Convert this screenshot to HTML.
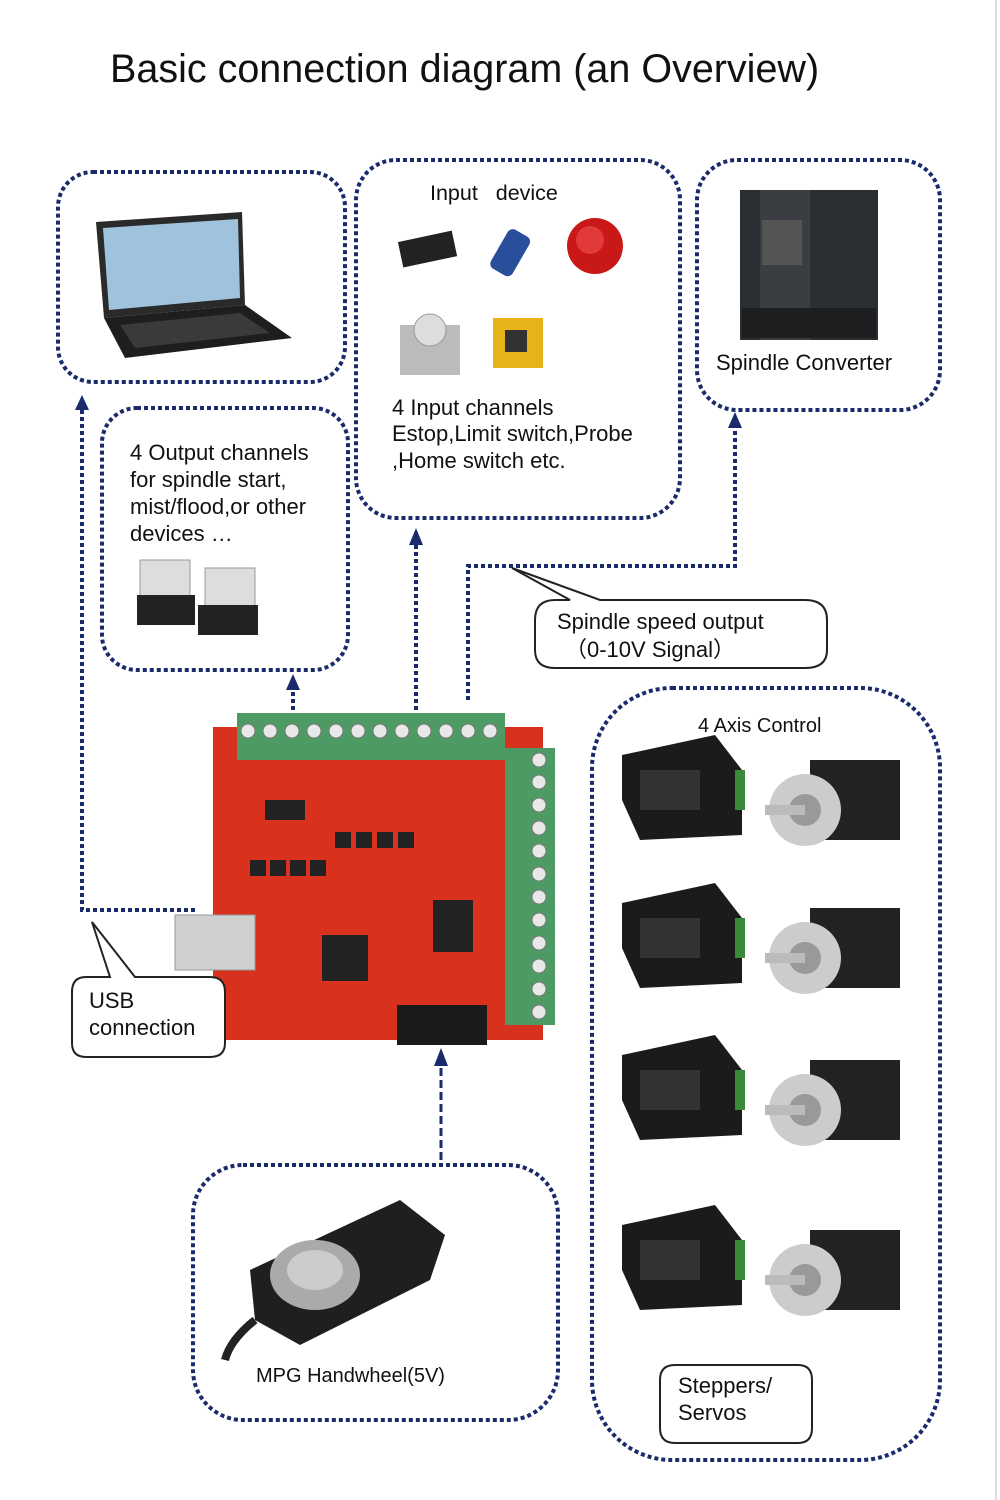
<!DOCTYPE html>
<html><head><meta charset="utf-8"><style>
html,body{margin:0;padding:0;background:#fff}
svg{display:block}
text{font-family:"Liberation Sans",sans-serif;fill:#111}
</style></head><body>
<svg width="1000" height="1500" viewBox="0 0 1000 1500" xmlns="http://www.w3.org/2000/svg">
<rect width="1000" height="1500" fill="#fff"/>
<line x1="996" y1="0" x2="996" y2="1500" stroke="#ddd" stroke-width="2"/>
<text x="110" y="82" font-size="39.5">Basic connection diagram (an Overview)</text>

<g fill="none" stroke="#1a2a6c" stroke-width="4" stroke-dasharray="4 3">
<rect x="58" y="172" width="287" height="210" rx="35"/>
<rect x="356" y="160" width="324" height="358" rx="40"/>
<rect x="697" y="160" width="243" height="250" rx="40"/>
<rect x="102" y="408" width="246" height="262" rx="35"/>
<rect x="592" y="688" width="348" height="772" rx="80"/>
<rect x="193" y="1165" width="365" height="255" rx="50"/>
<path d="M82 410 V910 H195"/>
<path d="M293 692 V715"/>
<path d="M416 545 V712"/>
<path d="M468 700 V566 H735 V428"/>
</g>
<g fill="none" stroke="#1a2a6c" stroke-width="3" stroke-dasharray="8 4">
<path d="M441 1068 V1165"/>
</g>
<g fill="#1a2a6c">
<polygon points="82,395 75,410 89,410"/>
<polygon points="293,674 286,690 300,690"/>
<polygon points="416,528 409,545 423,545"/>
<polygon points="735,412 728,428 742,428"/>
<polygon points="441,1048 434,1066 448,1066"/>
</g>

<!-- laptop -->
<polygon points="96,222 242,212 245,305 104,318" fill="#2a2a2a"/>
<polygon points="103,228 238,219 240,298 109,310" fill="#9fc3dc"/>
<polygon points="104,318 245,305 292,338 125,358" fill="#1e1e1e"/>
<polygon points="120,325 240,313 270,333 135,348" fill="#3a3a3a"/>

<!-- input devices -->
<text x="430" y="200" font-size="21.5">Input&#160;&#160;&#160;device</text>
<rect x="400" y="236" width="55" height="26" fill="#222" transform="rotate(-12 428 249)"/>
<rect x="498" y="230" width="25" height="45" rx="6" fill="#2a4f9a" transform="rotate(30 510 252)"/>
<circle cx="595" cy="246" r="28" fill="#c81818"/>
<circle cx="590" cy="240" r="14" fill="#e23a3a"/>
<rect x="400" y="325" width="60" height="50" fill="#bbb"/>
<circle cx="430" cy="330" r="16" fill="#ddd" stroke="#999"/>
<rect x="493" y="318" width="50" height="50" fill="#e8b21a"/>
<rect x="505" y="330" width="22" height="22" fill="#333"/>
<text x="392" y="415" font-size="22">4 Input channels</text>
<text x="392" y="441" font-size="22">Estop,Limit switch,Probe</text>
<text x="392" y="468" font-size="22">,Home switch etc.</text>

<!-- spindle converter -->
<rect x="740" y="190" width="138" height="150" fill="#2b2f33"/>
<rect x="760" y="190" width="50" height="150" fill="#3a3e43"/>
<rect x="762" y="220" width="40" height="45" fill="#555"/>
<rect x="742" y="308" width="134" height="30" fill="#1c1e20"/>
<text x="716" y="370" font-size="22">Spindle Converter</text>

<!-- outputs -->
<text x="130" y="460" font-size="22">4 Output channels</text>
<text x="130" y="487" font-size="22">for spindle start,</text>
<text x="130" y="514" font-size="22">mist/flood,or other</text>
<text x="130" y="541" font-size="22">devices …</text>
<rect x="140" y="560" width="50" height="40" fill="#ddd" stroke="#999"/>
<rect x="137" y="595" width="58" height="30" fill="#222"/>
<rect x="205" y="568" width="50" height="40" fill="#ddd" stroke="#999"/>
<rect x="198" y="605" width="60" height="30" fill="#222"/>

<!-- spindle callout -->
<path d="M570 600 L512 568 L600 600 H805 Q827 600 827 620 V650 Q827 668 805 668 H555 Q535 668 535 650 V620 Q535 600 555 600 Z" fill="#fff" stroke="#222" stroke-width="2"/>
<text x="557" y="629" font-size="22">Spindle speed output</text>
<text x="565" y="657" font-size="22">（0-10V Signal）</text>

<!-- board -->
<rect x="213" y="727" width="330" height="313" fill="#d8321e"/>
<rect x="237" y="713" width="268" height="47" fill="#4e9a64"/>
<g fill="#e8e8e8" stroke="#777">
<circle cx="248" cy="731" r="7"/><circle cx="270" cy="731" r="7"/><circle cx="292" cy="731" r="7"/><circle cx="314" cy="731" r="7"/><circle cx="336" cy="731" r="7"/><circle cx="358" cy="731" r="7"/><circle cx="380" cy="731" r="7"/><circle cx="402" cy="731" r="7"/><circle cx="424" cy="731" r="7"/><circle cx="446" cy="731" r="7"/><circle cx="468" cy="731" r="7"/><circle cx="490" cy="731" r="7"/>
</g>
<rect x="505" y="748" width="50" height="277" fill="#4e9a64"/>
<g fill="#e8e8e8" stroke="#777">
<circle cx="539" cy="760" r="7"/><circle cx="539" cy="782" r="7"/><circle cx="539" cy="805" r="7"/><circle cx="539" cy="828" r="7"/><circle cx="539" cy="851" r="7"/><circle cx="539" cy="874" r="7"/><circle cx="539" cy="897" r="7"/><circle cx="539" cy="920" r="7"/><circle cx="539" cy="943" r="7"/><circle cx="539" cy="966" r="7"/><circle cx="539" cy="989" r="7"/><circle cx="539" cy="1012" r="7"/>
</g>
<rect x="322" y="935" width="46" height="46" fill="#222"/>
<rect x="433" y="900" width="40" height="52" fill="#222"/>
<rect x="265" y="800" width="40" height="20" fill="#222"/>
<g fill="#222"><rect x="250" y="860" width="16" height="16"/><rect x="270" y="860" width="16" height="16"/><rect x="290" y="860" width="16" height="16"/><rect x="310" y="860" width="16" height="16"/><rect x="335" y="832" width="16" height="16"/><rect x="356" y="832" width="16" height="16"/><rect x="377" y="832" width="16" height="16"/><rect x="398" y="832" width="16" height="16"/></g>
<rect x="397" y="1005" width="90" height="40" fill="#1b1b1b"/>
<rect x="175" y="915" width="80" height="55" fill="#d0d0d0" stroke="#999"/>

<!-- USB callout -->
<path d="M110 977 L92 922 L135 977 H210 Q225 977 225 992 V1043 Q225 1057 210 1057 H86 Q72 1057 72 1043 V992 Q72 977 86 977 Z" fill="#fff" stroke="#222" stroke-width="2"/>
<text x="89" y="1008" font-size="22">USB</text>
<text x="89" y="1035" font-size="22">connection</text>

<!-- 4 axis -->
<text x="698" y="732" font-size="20">4 Axis Control</text>
<g id="ax">
<polygon points="622,755 715,735 742,770 742,835 640,840 622,800" fill="#1b1b1b"/>
<rect x="735" y="770" width="10" height="40" fill="#3a8a3a"/>
<rect x="640" y="770" width="60" height="40" fill="#333"/>
<rect x="810" y="760" width="90" height="80" fill="#222"/>
<circle cx="805" cy="810" r="36" fill="#ccc"/>
<circle cx="805" cy="810" r="16" fill="#999"/>
<rect x="765" y="805" width="40" height="10" fill="#bbb"/>
</g>
<use href="#ax" transform="translate(0,148)"/>
<use href="#ax" transform="translate(0,300)"/>
<use href="#ax" transform="translate(0,470)"/>

<path d="M675 1365 H798 Q812 1365 812 1380 V1428 Q812 1443 798 1443 H675 Q660 1443 660 1428 V1380 Q660 1365 675 1365 Z" fill="#fff" stroke="#222" stroke-width="2"/>
<text x="678" y="1393" font-size="22">Steppers/</text>
<text x="678" y="1420" font-size="22">Servos</text>

<!-- MPG -->
<polygon points="250,1270 400,1200 445,1235 430,1280 300,1345 255,1320" fill="#1f1f1f"/>
<ellipse cx="315" cy="1275" rx="45" ry="35" fill="#aaa"/>
<ellipse cx="315" cy="1270" rx="28" ry="20" fill="#ccc"/>
<path d="M255 1320 Q230 1340 225 1360" stroke="#222" stroke-width="8" fill="none"/>
<text x="256" y="1382" font-size="20">MPG Handwheel(5V)</text>
</svg>
</body></html>
